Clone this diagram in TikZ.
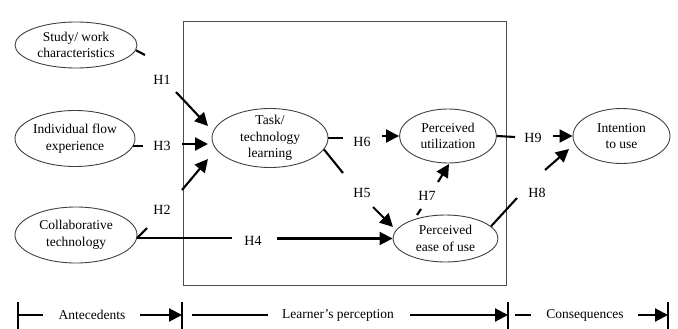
\documentclass[tikz,border=0pt]{standalone}
\usepackage{fontspec}
\setmainfont{Liberation Serif}
\usetikzlibrary{arrows.meta,shapes.geometric}
\begin{document}
\begin{tikzpicture}[x=1pt,y=-1pt,
  ell/.style={ellipse,draw=black!75,line width=0.9pt,align=center,inner sep=0pt,
    font=\fontsize{13.5}{16.5}\selectfont},
  lbl/.style={font=\fontsize{14}{16}\selectfont,inner sep=1pt},
  btxt/.style={font=\fontsize{13.5}{16}\selectfont,inner sep=1pt},
  con/.style={line width=2.1pt},
  arr/.style={line width=2.1pt,-{Triangle[length=13pt,width=13pt]}},
  barline/.style={line width=2.1pt}]
\useasboundingbox (0,0) rectangle (678,329);
% frame
\node[draw=black!70,line width=0.9pt,minimum width=323pt,minimum height=264pt,inner sep=0pt] (frame) at (344.5,153) {};
% ellipses
\node[ell,minimum width=122pt,minimum height=46pt] (study) at (76,45) {Study/ work\\characteristics};
\node[ell,minimum width=120pt,minimum height=56pt] (indiv) at (75,138.5) {Individual flow\\experience};
\node[ell,minimum width=122pt,minimum height=56pt] (collab) at (76,235) {Collaborative\\technology};
\node[ell,minimum width=116pt,minimum height=59pt,inner ysep=-3pt] (task) at (270,138) {Task/\\technology\\learning};
\node[ell,minimum width=97pt,minimum height=54pt] (util) at (448,136) {Perceived\\utilization};
\node[ell,minimum width=105pt,minimum height=47pt] (ease) at (445.5,238.5) {Perceived\\ease of use};
\node[ell,minimum width=97pt,minimum height=55pt] (intent) at (621.5,136) {Intention\\to use};
% labels
\node[lbl] (h1) at (162,80) {H1};
\node[lbl] (h3) at (162,146) {H3};
\node[lbl] (h2) at (162,210) {H2};
\node[lbl] (h4) at (253,241) {H4};
\node[lbl] (h6) at (362,142) {H6};
\node[lbl] (h5) at (362,193) {H5};
\node[lbl] (h7) at (427,196) {H7};
\node[lbl] (h9) at (533,138) {H9};
\node[lbl] (h8) at (537,193) {H8};
% coordinates of gap ends
\coordinate (h1a) at (145,55);   \coordinate (h1b) at (176,92);  \coordinate (h1c) at (208,126);
\coordinate (h3a) at (143,144);  \coordinate (h3b) at (182,144); \coordinate (h3c) at (208,144);
\coordinate (h2a) at (147,228);  \coordinate (h2b) at (182,190); \coordinate (h2c) at (208,159);
\coordinate (h4a) at (232,238.5); \coordinate (h4b) at (277,238.5);
\coordinate (h6a) at (343,138);  \coordinate (h6b) at (382,136);
\coordinate (h5a) at (343,173);  \coordinate (h5b) at (373,207); \coordinate (h5c) at (393,227);
\coordinate (h7a) at (417,215);  \coordinate (h7b) at (421,209);
\coordinate (h7c) at (438,182);  \coordinate (h7d) at (449,164);
\coordinate (h9a) at (515,137);  \coordinate (h9b) at (553,136);
\coordinate (h8a) at (517,198);  \coordinate (h8b) at (545,170); \coordinate (h8c) at (569,149);
% connectors
\draw[con] (study.-5) -- (h1a);
\draw[arr] (h1b) -- (h1c);
\draw[con] (indiv.-7) -- (h3a |- indiv.-7);
\draw[arr] (h3b) -- (h3c);
\draw[con] (collab.-3.5) -- (h2a);
\draw[arr] (h2b) -- (h2c);
\draw[con] (collab.-3.5) -- (h4a |- collab.-3.5);
\draw[arr] (h4b) -- (ease.west);
\draw[con] (task.east) -- (h6a);
\draw[arr] (h6b) -- (util.west);
\draw[con] (task.-12) -- (h5a);
\draw[arr] (h5b) -- (h5c);
\draw[con] (h7a) -- (h7b);
\draw[arr] (h7c) -- (h7d);
\draw[con] (util.east) -- (h9a);
\draw[arr] (h9b) -- (intent.west);
\draw[con] (ease.15) -- (h8a);
\draw[arr] (h8b) -- (h8c);
% bottom timeline
\node[btxt] (ante) at (92,315) {Antecedents};
\node[btxt] (lear) at (338,315) {Learner's perception};
\node[btxt] (cons) at (585,315) {Consequences};
\coordinate (t0) at (18,315);
\coordinate (t1) at (43,315);
\coordinate (t2) at (140,315);
\coordinate (t3) at (182,315);
\coordinate (t4) at (192,315);
\coordinate (t5) at (268,315);
\coordinate (t6) at (410,315);
\coordinate (t7) at (508,315);
\coordinate (t8) at (515,315);
\coordinate (t9) at (531,315);
\coordinate (t10) at (638,315);
\coordinate (t11) at (668,315);
\draw[barline] (t0) ++(0,-13) -- ++(0,28);
\draw[con] (t0) -- (t1);
\draw[arr] (t2) -- (t3);
\draw[barline] (t3) ++(0,-13) -- ++(0,28);
\draw[con] (t4) -- (t5);
\draw[arr] (t6) -- (t7);
\draw[barline] (t7) ++(0,-13) -- ++(0,28);
\draw[con] (t8) -- (t9);
\draw[arr] (t10) -- (t11);
\draw[barline] (t11) ++(0,-13) -- ++(0,28);
\end{tikzpicture}
\end{document}
